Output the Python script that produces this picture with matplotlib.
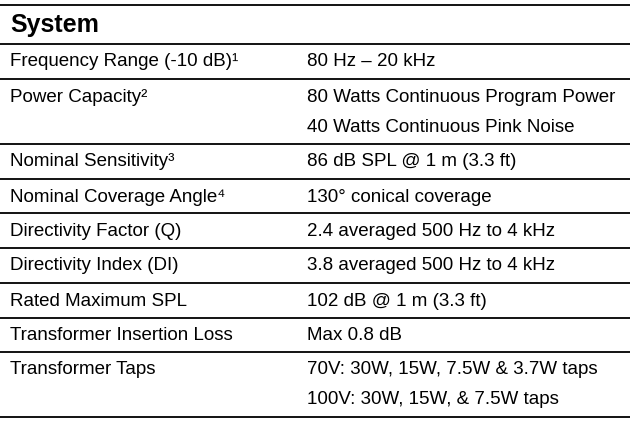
import matplotlib.pyplot as plt

labels = ["Frequency Range (-10 dB)¹", "Power Capacity²", "Nominal Sensitivity³",
          "Nominal Coverage Angle⁴", "Directivity Factor (Q)", "Directivity Index (DI)",
          "Rated Maximum SPL", "Transformer Insertion Loss", "Transformer Taps"]
values = ["80 Hz – 20 kHz",
          "80 Watts Continuous Program Power\n40 Watts Continuous Pink Noise",
          "86 dB SPL @ 1 m (3.3 ft)", "130° conical coverage",
          "2.4 averaged 500 Hz to 4 kHz", "3.8 averaged 500 Hz to 4 kHz",
          "102 dB @ 1 m (3.3 ft)", "Max 0.8 dB",
          "70V: 30W, 15W, 7.5W & 3.7W taps\n100V: 30W, 15W, & 7.5W taps"]
# row boundaries in pixels (top line, header bottom, then each row bottom)
lines = [5, 44, 79, 144, 179, 213, 248, 283, 318, 352, 417]

plt.rcParams['font.family'] = ['Liberation Sans', 'DejaVu Sans']
W, H = 630, 421
fig = plt.figure(figsize=(W / 100, H / 100), dpi=100)
ax = fig.add_axes([0, 0, 1, 1])
ax.set_xlim(0, W)
ax.set_ylim(H, 0)
ax.axis("off")

for y in lines:
    ax.plot([0, W], [y, y], color="black", lw=1.3)

ax.text(10, 25, "System", fontsize=18, fontweight="bold", va="center", ha="left")
for i, (lab, val) in enumerate(zip(labels, values)):
    top = lines[i + 1]
    ax.text(10, top + 18, lab, fontsize=13.5, va="center", ha="left")
    for j, part in enumerate(val.split("\n")):
        ax.text(307, top + 18 + j * 30, part, fontsize=13.5, va="center", ha="left")

fig.savefig("out.png", dpi=100)
